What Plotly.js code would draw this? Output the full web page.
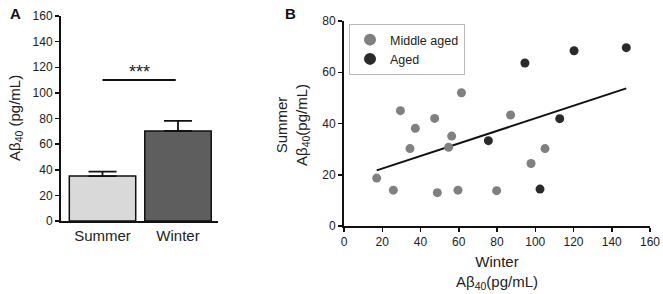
<!DOCTYPE html>
<html><head><meta charset="utf-8">
<script src="https://cdn.plot.ly/plotly-3.0.1.min.js"></script>
<style>html,body{margin:0;padding:0;background:#fff}#chart{width:663px;height:294px}</style>
</head><body><div id="chart"></div>
<script>
// Panel A data
const seasons = ['Summer', 'Winter'];
const meanAb40 = [35.1, 70.3];
const semAb40 = [3.4, 7.8];
const sigLabel = '***';
const sigY = 110;

// Panel B data
const middleWinter = [17.1, 25.8, 34.5, 48.8, 54.7, 59.6, 79.8, 97.8, 105.1, 29.5, 37.3, 47.4, 56.3, 61.4, 87.1];
const middleSummer = [18.7, 14.0, 30.2, 13.0, 30.7, 14.0, 13.8, 24.4, 30.2, 45.0, 38.1, 42.0, 35.1, 52.0, 43.3];
const agedWinter = [94.6, 120.3, 147.6, 112.8, 75.5, 102.5];
const agedSummer = [63.6, 68.4, 69.6, 41.9, 33.3, 14.4];
const fitX = [17.1, 147.6];
const fitY = [21.7, 53.7];

const FONT = 'Liberation Sans, Arial, sans-serif';

const traces = [
  {type:'bar', x:seasons, y:meanAb40, xaxis:'x', yaxis:'y', width:0.88,
   marker:{color:['#d9d9d9','#5e5e5e'], line:{color:'#111', width:1.5}},
   error_y:{type:'data', array:semAb40, arrayminus:[0,0], symmetric:false, color:'#111', thickness:1.8, width:14},
   showlegend:false, hoverinfo:'skip'},
  {type:'scatter', mode:'lines', x:fitX, y:fitY, xaxis:'x2', yaxis:'y2',
   line:{color:'#111', width:2}, showlegend:false},
  {type:'scatter', mode:'markers', name:'Middle aged', x:middleWinter, y:middleSummer, xaxis:'x2', yaxis:'y2',
   marker:{color:'#808080', size:9}},
  {type:'scatter', mode:'markers', name:'Aged', x:agedWinter, y:agedSummer, xaxis:'x2', yaxis:'y2',
   marker:{color:'#2a2a2a', size:9}}
];

const axisCommon = {showline:true, linecolor:'#111', linewidth:2, ticks:'outside', ticklen:4, tickwidth:1.5, tickcolor:'#111',
  showgrid:false, zeroline:false, tickfont:{family:FONT, size:12, color:'#222'}, fixedrange:true};

const layout = {
  width:663, height:294, margin:{l:0, r:0, t:0, b:0},
  paper_bgcolor:'#fff', plot_bgcolor:'rgba(0,0,0,0)',
  font:{family:FONT, color:'#222'},
  xaxis:Object.assign({}, axisCommon, {domain:[61/663, 218/663], range:[-0.55, 1.53], anchor:'y', tickfont:{family:FONT, size:15, color:'#222'}, ticks:'', ticklen:0}),
  yaxis:Object.assign({}, axisCommon, {domain:[(294-221)/294, (294-16)/294], range:[0,160], dtick:20, anchor:'x'}),
  xaxis2:Object.assign({}, axisCommon, {domain:[344/663, 650/663], range:[0,160], dtick:20, anchor:'y2'}),
  yaxis2:Object.assign({}, axisCommon, {domain:[(294-226)/294, (294-21)/294], range:[0,80], dtick:20, anchor:'x2'}),
  showlegend:true,
  legend:{x:349/663, y:(294-24)/294, xanchor:'left', yanchor:'top', bordercolor:'#bbbbbb', borderwidth:1, bgcolor:'#fff',
    font:{family:FONT, size:12.5, color:'#222'}, tracegroupgap:0, itemsizing:'constant', itemwidth:30},
  shapes:[
    {type:'line', xref:'x', yref:'y', x0:0, x1:0.97, y0:sigY, y1:sigY, line:{color:'#111', width:2}}
  ],
  annotations:[
    {text:sigLabel, xref:'x', yref:'y', x:0.485, y:sigY, yanchor:'bottom', xanchor:'center', showarrow:false, font:{family:FONT, size:18, color:'#222'}, yshift:-4},
    {text:'<b>A</b>', xref:'paper', yref:'paper', x:8/663, y:1-3/294, xanchor:'left', yanchor:'top', showarrow:false, font:{family:FONT, size:15, color:'#111'}},
    {text:'<b>B</b>', xref:'paper', yref:'paper', x:283/663, y:1-3/294, xanchor:'left', yanchor:'top', showarrow:false, font:{family:FONT, size:15, color:'#111'}},
    {text:'Aβ<sub>40</sub> (pg/mL)', xref:'paper', yref:'paper', x:15/663, y:(294-118)/294, xanchor:'center', yanchor:'middle', textangle:-90, showarrow:false, font:{family:FONT, size:15, color:'#222'}},
    {text:'Summer<br>Aβ<sub>40</sub>(pg/mL)', xref:'paper', yref:'paper', x:292/663, y:(294-125)/294, xanchor:'center', yanchor:'middle', textangle:-90, showarrow:false, font:{family:FONT, size:15, color:'#222'}},
    {text:'Winter<br>Aβ<sub>40</sub>(pg/mL)', xref:'paper', yref:'paper', x:497/663, y:(294-272)/294, xanchor:'center', yanchor:'middle', showarrow:false, font:{family:FONT, size:15, color:'#222'}}
  ]
};

Plotly.newPlot('chart', traces, layout, {staticPlot:true, displayModeBar:false});
</script></body></html>
